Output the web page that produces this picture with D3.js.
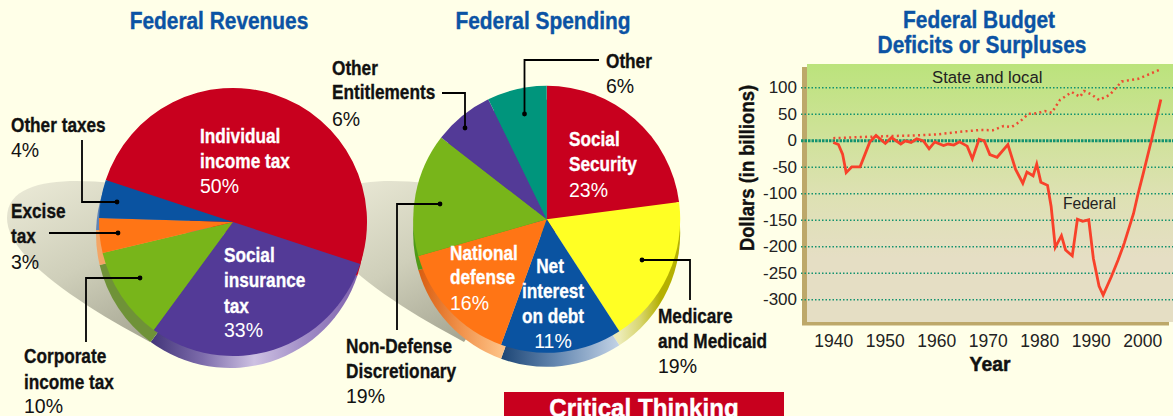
<!DOCTYPE html>
<meta charset="utf-8">
<style>
  html, body { margin: 0; padding: 0; background: #ffffe8; overflow: hidden; }
  svg { display: block; }
  .head { font-family: "Liberation Sans", sans-serif; font-weight: 700; }
  .plain { font-family: "Liberation Sans", sans-serif; font-weight: 400; }
</style>
<script src="https://d3js.org/d3.v7.min.js"></script>
<div id="my_dataviz"></div>
<script>
// slice sizes as drawn in the picture (the printed percents are in the labels below)
var revenueNames = ["Individual income tax", "Social insurance tax", "Corporate income tax", "Excise tax", "Other taxes"];
var revenueShares = [50, 30, 11.2, 4.2, 4.6];
var spendingNames = ["Social Security", "Medicare and Medicaid", "Net interest on debt", "National defense", "Non-Defense Discretionary", "Other Entitlements", "Other"];
var spendingShares = [22.9, 17.9, 14.7, 15, 14.9, 7.3, 7.2];

var tickYears = [1940, 1950, 1960, 1970, 1980, 1990, 2000];
var tickDollars = [100, 50, 0, -50, -100, -150, -200, -250, -300];

var federalYears = [1940, 1941, 1941.8, 1942.5, 1943.6, 1945.2, 1947.1, 1948.3, 1950.1, 1951.3, 1953.1, 1954, 1955.1, 1956.2, 1957.5, 1958.6, 1959.7, 1961.4, 1962.3, 1963.4, 1964.5, 1966, 1967, 1968.3, 1969.3, 1970.4, 1971.8, 1973.9, 1975.4, 1976.8, 1977.6, 1978.8, 1979.5, 1980.3, 1981.6, 1982.3, 1983.1, 1984.3, 1985.1, 1986.4, 1987.4, 1988.4, 1989.6, 1990.5, 1991.6, 1992.4, 1994, 1995.3, 1996.5, 1998.3, 1999.2, 2000.2, 2001.8, 2003.6];
var federalValues = [-4, -8, -26, -61, -50, -50, -3, 9, -6, 5, -7, -1, -4, 3, -1, -16, -3, -10, -7, -9, -3, -11, -35, 2, -1, -27, -32, -8, -55, -81, -60, -67, -45, -79, -85, -125, -202, -180, -207, -218, -149, -153, -150, -223, -275, -292, -257, -226, -194, -138, -100, -62, 1, 77];
var stateYears = [1940, 1945.2, 1951, 1955.5, 1960, 1964.6, 1968.5, 1971, 1973.1, 1974.6, 1976.2, 1977.9, 1979.5, 1981.1, 1982.4, 1984, 1986.3, 1987.9, 1988.7, 1990.2, 1991.6, 1993.7, 1996, 1999.2, 2003.6];
var stateValues = [4, 6, 8, 9, 11, 16, 19.5, 19, 27, 25, 35, 50, 51, 55, 52, 76, 91, 82, 93, 86, 76, 86, 111, 116, 134];

var revenueColors = ["#c8001e", "#533a97", "#78b51a", "#ff7515", "#0a53a1"];
var spendingColors = ["#c8001e", "#ffff24", "#0a53a1", "#ff7515", "#78b51a", "#533a97", "#00957c"];
// rim colours left to right along the visible edge of each slice
var revenueRims = [["#c8001e", "#c8001e"], ["#43357a", "#7d6cab", "#cdc1e2", "#a08cc6", "#7f62ad"], ["#6f9238", "#6f9238"], ["#f3a565", "#f3a565"], ["#5f83b5", "#5f83b5"]];
var spendingRims = [["#c8001e", "#c8001e"], ["#ecebb5", "#d8d670", "#b5b000", "#b5b000"], ["#1d4676", "#6a8cb4", "#c3d3e6"], ["#d95d10", "#f0914a", "#fdc185"], ["#4f9a18", "#4f9a18"], ["#533a97", "#533a97"], ["#00957c", "#00957c"]];

var svg = d3.select("#my_dataviz").append("svg").attr("width", 1173).attr("height", 416);
var defs = svg.append("defs");

function addGradient(id, stops, x1, y1, x2, y2, units) {
  var g = defs.append("linearGradient").attr("id", id)
    .attr("x1", x1).attr("y1", y1).attr("x2", x2).attr("y2", y2);
  if (units) g.attr("gradientUnits", units);
  stops.forEach(function (c, i) {
    g.append("stop").attr("offset", stops.length > 1 ? i / (stops.length - 1) : 0).attr("stop-color", c);
  });
}

addGradient("shadow", ["#ecebd8", "#cfcfba", "#9f9f8c"], 0, 0, 0.75, 1);

// soft shadow that falls to the left of each pie
function drawShadow(cx, cy) {
  svg.append("path")
    .attr("transform", "translate(" + cx + "," + cy + ")")
    .attr("d", "M-120,-39 C-170,-44 -226,-42 -226,-4 C-226,36 -150,84 -83,120 L0,0 Z")
    .attr("fill", "url(#shadow)");
}

function drawPie(name, shares, colors, rims, cx, cy, r, dx, dy, startDeg) {
  var pie = d3.pie().sort(null).value(function (d) { return d; })
    .startAngle(startDeg * Math.PI / 180)
    .endAngle((startDeg + 360) * Math.PI / 180);
  var arc = d3.arc().innerRadius(0).outerRadius(r);
  var slices = pie(shares);

  slices.forEach(function (s, i) {
    // horizontal extent of the slice rim, in the group's own coordinates
    var xs = [];
    for (var a = s.startAngle; a <= s.endAngle; a += 0.02) xs.push(Math.sin(a) * r);
    addGradient(name + "rim" + i, rims[i], d3.min(xs), 0, d3.max(xs), 0, "userSpaceOnUse");
  });

  svg.append("g").attr("transform", "translate(" + (cx + dx) + "," + (cy + dy) + ")")
    .selectAll("path").data(slices).enter().append("path")
    .attr("d", arc)
    .attr("fill", function (d, i) { return "url(#" + name + "rim" + i + ")"; });

  svg.append("g").attr("transform", "translate(" + cx + "," + cy + ")")
    .selectAll("path").data(slices).enter().append("path")
    .attr("d", arc)
    .attr("fill", function (d, i) { return colors[i]; });
}

drawShadow(547, 222);
drawShadow(233, 222);
drawPie("rev", revenueShares, revenueColors, revenueRims, 233, 222, 134, -3, 12, -71.7);
drawPie("spe", spendingShares, spendingColors, spendingRims, 546.7, 219.3, 133.5, 0, 14, 0);

// leader lines with a dot on the slice
var leaders = [
  [[82, 140], [82, 202], [117, 202]],
  [[49, 233], [118, 233]],
  [[86, 342], [86, 278], [140, 278]],
  [[442, 93], [465, 93], [465, 128]],
  [[599, 60], [524.5, 60], [524.5, 114]],
  [[397, 330], [397, 204], [440, 204]],
  [[690, 300], [690, 260], [642, 260]]
];
var leaderLine = d3.line();
leaders.forEach(function (pts) {
  svg.append("path").attr("d", leaderLine(pts)).attr("fill", "none").attr("stroke", "#000").attr("stroke-width", 1.8);
  var end = pts[pts.length - 1];
  svg.append("circle").attr("cx", end[0]).attr("cy", end[1]).attr("r", 2.4).attr("fill", "#000");
});

// text: [string, x, baseline, kind, colour, anchor]
var BLUE = "#0b53a4", INK = "#111", WHITE = "#fff";
var labels = [
  ["Federal Revenues", 219, 29, "title", BLUE, "middle"],
  ["Federal Spending", 543, 29, "title", BLUE, "middle"],
  ["Federal Budget", 979, 28, "title", BLUE, "middle"],
  ["Deficits or Surpluses", 982, 53, "title", BLUE, "middle"],
  ["Other taxes", 11, 132, "b", INK], ["4%", 11, 157, "r", INK],
  ["Excise", 11, 218, "b", INK], ["tax", 11, 243, "b", INK], ["3%", 11, 269, "r", INK],
  ["Corporate", 24, 363, "b", INK], ["income tax", 24, 389, "b", INK], ["10%", 24, 413, "r", INK],
  ["Individual", 200, 143, "b", WHITE], ["income tax", 200, 168, "b", WHITE], ["50%", 200, 193, "r", WHITE],
  ["Social", 224, 262, "b", WHITE], ["insurance", 224, 287, "b", WHITE], ["tax", 224, 313, "b", WHITE], ["33%", 224, 337, "r", WHITE],
  ["Other", 332, 75, "b", INK], ["Entitlements", 332, 99, "b", INK], ["6%", 332, 126, "r", INK],
  ["Other", 606, 68, "b", INK], ["6%", 606, 93, "r", INK],
  ["Social", 569, 146, "b", WHITE], ["Security", 569, 171, "b", WHITE], ["23%", 569, 197, "r", WHITE],
  ["National", 450, 260, "b", WHITE], ["defense", 450, 284, "b", WHITE], ["16%", 450, 310, "r", WHITE],
  ["Net", 550, 273, "b", WHITE, "middle"], ["interest", 553, 298, "b", WHITE, "middle"], ["on debt", 553, 323, "b", WHITE, "middle"], ["11%", 553, 348, "r", WHITE, "middle"],
  ["Medicare", 658, 323, "b", INK], ["and Medicaid", 658, 348, "b", INK], ["19%", 658, 373, "r", INK],
  ["Non-Defense", 346, 353, "b", INK], ["Discretionary", 346, 378, "b", INK], ["19%", 346, 403, "r", INK]
];
// no condensed face is installed, so the bold text is squeezed sideways
var kinds = {
  title: { cls: "head", size: 24, sx: 0.87, heavy: 0.4 },
  b: { cls: "head", size: 21, sx: 0.82, heavy: 0.35 },
  r: { cls: "plain", size: 19.5, sx: 1, heavy: 0 }
};

// line chart
var x = d3.scaleLinear().domain([1940, 2000]).range([833.3, 1142.3]);
var y = d3.scaleLinear().domain([100, -300]).range([87.3, 299.3]);

addGradient("plotbg", ["#bbe37c", "#cde296", "#dde1b2", "#e5dec4", "#e5dec4"], 0, 0, 0, 1);
svg.append("rect").attr("x", 807).attr("y", 64).attr("width", 366).attr("height", 258).attr("fill", "url(#plotbg)");
svg.append("rect").attr("x", 802).attr("y", 67).attr("width", 5).attr("height", 258).attr("fill", "#bda86a");
svg.append("rect").attr("x", 802).attr("y", 322).attr("width", 367).attr("height", 3.5).attr("fill", "#bda86a");

// plain hyphen on the negative ticks, as printed
var yAxis = svg.append("g").attr("transform", "translate(801,0)")
  .call(d3.axisLeft(y).tickValues(tickDollars).tickSize(-372).tickPadding(4).tickFormat(String));
yAxis.select(".domain").remove();
yAxis.selectAll("line")
  .attr("stroke", "#12926f")
  .attr("stroke-width", function (d) { return d === 0 ? 3 : 1.5; })
  .attr("stroke-dasharray", function (d) { return d === 0 ? "2.5 1" : "1.5 2"; });
yAxis.selectAll("text").attr("class", "plain").attr("font-size", 17).attr("fill", "#222");

var xAxis = svg.append("g").attr("transform", "translate(0,332)")
  .call(d3.axisBottom(x).tickValues(tickYears).tickSize(0).tickPadding(3).tickFormat(String));
xAxis.select(".domain").remove();
xAxis.selectAll("text").attr("class", "plain").attr("font-size", 17.5).attr("fill", "#222");

var line = d3.line()
  .x(function (d) { return x(d[0]); })
  .y(function (d) { return y(d[1]); });

svg.append("path").datum(d3.zip(stateYears, stateValues))
  .attr("d", line).attr("fill", "none").attr("stroke", "#ee4a32").attr("stroke-width", 2.5)
  .attr("stroke-dasharray", "2 3.3");
svg.append("path").datum(d3.zip(federalYears, federalValues))
  .attr("d", line).attr("fill", "none").attr("stroke", "#f8412a").attr("stroke-width", 2.8);

function squeezed(str, px, py, cls, size, sx, heavy, fill, anchor, rot) {
  svg.append("text").text(str)
    .attr("class", cls).attr("font-size", size)
    .attr("fill", fill).attr("text-anchor", anchor || "start")
    .attr("stroke", heavy ? fill : "none").attr("stroke-width", heavy)
    .attr("transform", "translate(" + px + "," + py + ")" + (rot ? " rotate(" + rot + ")" : "") + " scale(" + sx + ",1)");
}

labels.forEach(function (d) {
  var k = kinds[d[3]];
  squeezed(d[0], d[1], d[2], k.cls, k.size, k.sx, k.heavy, d[4], d[5]);
});

squeezed("State and local", 932, 83, "plain", 16.7, 1, 0, "#222");
squeezed("Federal", 1063, 209, "plain", 15.6, 1, 0, "#222");
squeezed("Year", 990, 371, "head", 21, 0.92, 0.5, INK, "middle");
squeezed("Dollars (in billions)", 754, 168, "head", 21, 0.88, 0.4, INK, "middle", -90);

// banner cut off at the bottom of the picture
svg.append("rect").attr("x", 504).attr("y", 392).attr("width", 280).attr("height", 24).attr("fill", "#c8001e");
squeezed("Critical Thinking", 644, 417, "head", 26, 0.93, 0.4, "#fff", "middle");
</script>
